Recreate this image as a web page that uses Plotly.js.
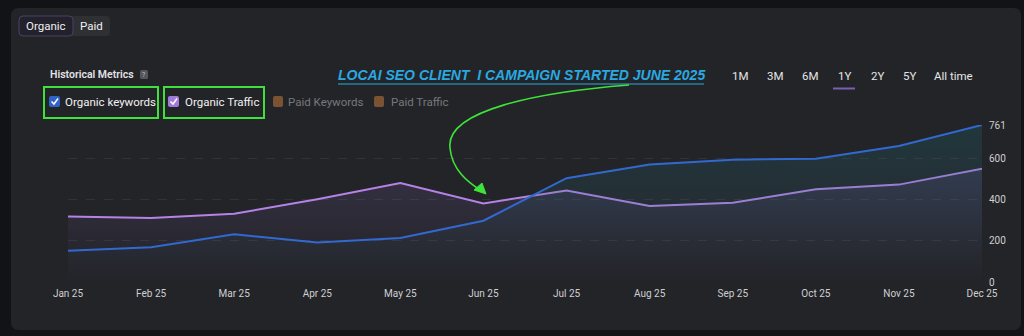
<!DOCTYPE html>
<html><head><meta charset="utf-8">
<script src="https://cdn.plot.ly/plotly-3.0.1.min.js"></script>
<style>html,body{margin:0;padding:0;background:#121316;}#c{width:1024px;height:336px;}</style>
</head><body><div id="c"></div>
<script>
const months = ["Jan 25","Feb 25","Mar 25","Apr 25","May 25","Jun 25","Jul 25","Aug 25","Sep 25","Oct 25","Nov 25","Dec 25"];
const organicKeywords = [152,168,231,192,213,297,503,570,593,598,659,761];
const organicTraffic = [317,310,331,401,480,381,444,368,384,449,472,549];
const yTicks = [0,200,400,600,761];

const W=1024,H=336,L=68,R=982,T=125,B=282;
const px=x=>(x-L)/(R-L), py=y=>(B-y)/(B-T);
const P=(x,y)=>px(x)+','+py(y);
const FONT='Roboto, Inter, sans-serif';

const xs = months.map((m,i)=>i);
const traces = [
 {x:xs,y:organicTraffic,type:'scatter',mode:'lines',line:{color:'#b583e6',width:2},fill:'tozeroy',
  fillgradient:{type:'vertical',start:0,stop:550,colorscale:[[0,'rgba(120,100,170,0.0)'],[1,'rgba(140,105,200,0.18)']]},hoverinfo:'skip'},
 {x:xs,y:organicKeywords,type:'scatter',mode:'lines',line:{color:'#3169d0',width:2},fill:'tozeroy',
  fillgradient:{type:'vertical',start:0,stop:761,colorscale:[[0,'rgba(40,80,110,0.0)'],[0.5,'rgba(40,100,120,0.16)'],[1,'rgba(25,105,110,0.28)']]},hoverinfo:'skip'}
];

function rect(x0,y0,x1,y1,fill,line,lw){return {type:'rect',xref:'paper',yref:'paper',x0:px(x0),x1:px(x1),y0:py(y1),y1:py(y0),fillcolor:fill||'rgba(0,0,0,0)',line:{color:line||'rgba(0,0,0,0)',width:lw||0},layer:'below'};}
function rrect(x0,y0,x1,y1,r,fill,line,lw,layer){
 const d='M'+P(x0+r,y0)+' L'+P(x1-r,y0)+' Q'+P(x1,y0)+' '+P(x1,y0+r)+' L'+P(x1,y1-r)+' Q'+P(x1,y1)+' '+P(x1-r,y1)+' L'+P(x0+r,y1)+' Q'+P(x0,y1)+' '+P(x0,y1-r)+' L'+P(x0,y0+r)+' Q'+P(x0,y0)+' '+P(x0+r,y0)+' Z';
 return {type:'path',xref:'paper',yref:'paper',path:d,fillcolor:fill||'rgba(0,0,0,0)',line:{color:line||'rgba(0,0,0,0)',width:lw||0},layer:layer||'below'};
}
function txt(x,y,t,size,color,anchor,extra){return Object.assign({xref:'paper',yref:'paper',x:px(x),y:py(y),text:t,showarrow:false,xanchor:anchor||'left',yanchor:'middle',font:{family:FONT,size:size,color:color}},extra||{});}

const shapes=[
 rrect(11,8,1021,330,8,'#232428',null,0),
 rrect(19,16,110,36,4,'#2f3034',null,0),
 rrect(19,16,73,36,4,'#23212c','#4a4266',1),
 rrect(140,70,148,79,1.5,'#55565b',null,0),
 rect(44,87,158,118,null,'#3fe23a',2),
 rect(164,87,264,118,null,'#3fe23a',2),
 rrect(49,96,60,107,2,'#2f63c8',null,0,'above'),
 rrect(168,96,179,107,2,'#a27ad8',null,0,'above'),
 rrect(273,96,283,107,2,'#7a5333',null,0,'above'),
 rrect(374,96,384,107,2,'#7a5333',null,0,'above'),
 {type:'path',xref:'paper',yref:'paper',path:'M'+P(51.5,101.5)+' L'+P(54,104)+' L'+P(58,98.5),line:{color:'#ffffff',width:1.5},layer:'above'},
 {type:'path',xref:'paper',yref:'paper',path:'M'+P(170.5,101.5)+' L'+P(173,104)+' L'+P(177,98.5),line:{color:'#ffffff',width:1.5},layer:'above'},
 {type:'line',xref:'paper',yref:'paper',x0:px(338),x1:px(704),y0:py(84),y1:py(84),line:{color:'#29a9e0',width:1.2}},
 {type:'line',xref:'paper',yref:'paper',x0:px(833),x1:px(855),y0:py(88.5),y1:py(88.5),line:{color:'#7a5eb2',width:2}},
 {type:'path',xref:'paper',yref:'paper',path:'M'+P(629,85)+' C'+P(540,92)+' '+P(445,110)+' '+P(450,148)+' C'+P(452,170)+' '+P(468,182)+' '+P(480,190),line:{color:'#3fe23a',width:1.6},layer:'above'},
 {type:'path',xref:'paper',yref:'paper',path:'M'+P(486,194)+' L'+P(474,190)+' L'+P(482,183)+' Z',fillcolor:'#3fe23a',line:{color:'#3fe23a',width:1},layer:'above'}
];

const ann=[
 txt(46,26,'Organic',11.5,'#f0f0f0','center'),
 txt(91.5,26,'Paid',11.5,'#f0f0f0','center'),
 txt(48,74.5,'Historical Metrics',10.5,'#e2e2e4','left',{font:{family:FONT,size:10.5,color:'#e2e2e4',weight:600}}),
 txt(144,74.5,'?',7,'#bbbbbb','center'),
 txt(63,102,'Organic keywords',11.5,'#f2f2f2'),
 txt(183,102,'Organic Traffic',11.5,'#f2f2f2'),
 txt(286,102,'Paid Keywords',11.5,'#77787d'),
 txt(389,102,'Paid Traffic',11.5,'#77787d'),
 txt(521,75,'<b><i>LOCAI SEO CLIENT  I CAMPAIGN STARTED JUNE 2025</i></b>',14,'#29a9e0','center',{font:{family:'Liberation Sans, Arial, sans-serif',size:14,color:'#29a9e0'}}),
 txt(740,76,'1M',11.5,'#e6e6e6','center'),
 txt(775,76,'3M',11.5,'#e6e6e6','center'),
 txt(810,76,'6M',11.5,'#e6e6e6','center'),
 txt(844,76,'1Y',11.5,'#e6e6e6','center'),
 txt(877,76,'2Y',11.5,'#e6e6e6','center'),
 txt(909,76,'5Y',11.5,'#e6e6e6','center'),
 txt(953,76,'All time',11.5,'#e6e6e6','center')
];

const layout={
 width:W,height:H,margin:{l:L,r:W-R,t:T,b:H-B,pad:0},
 paper_bgcolor:'#121316',plot_bgcolor:'rgba(0,0,0,0)',showlegend:false,
 xaxis:{range:[0,11],tickvals:xs,ticktext:months,showgrid:false,zeroline:false,showline:false,ticks:'',
   tickfont:{family:FONT,size:10,color:'#cfcfd2'},fixedrange:true,ticklabelstandoff:4},
 yaxis:{range:[0,761],side:'right',tickvals:yTicks,ticktext:yTicks.map(String),showgrid:true,gridcolor:'#323338',griddash:'dash',gridwidth:1,
   zeroline:false,showline:false,ticks:'',tickfont:{family:FONT,size:10,color:'#cfcfd2'},fixedrange:true,ticklabelstandoff:6},
 shapes:shapes,annotations:ann
};
Plotly.newPlot('c',traces,layout,{displayModeBar:false,staticPlot:true});
</script></body></html>
